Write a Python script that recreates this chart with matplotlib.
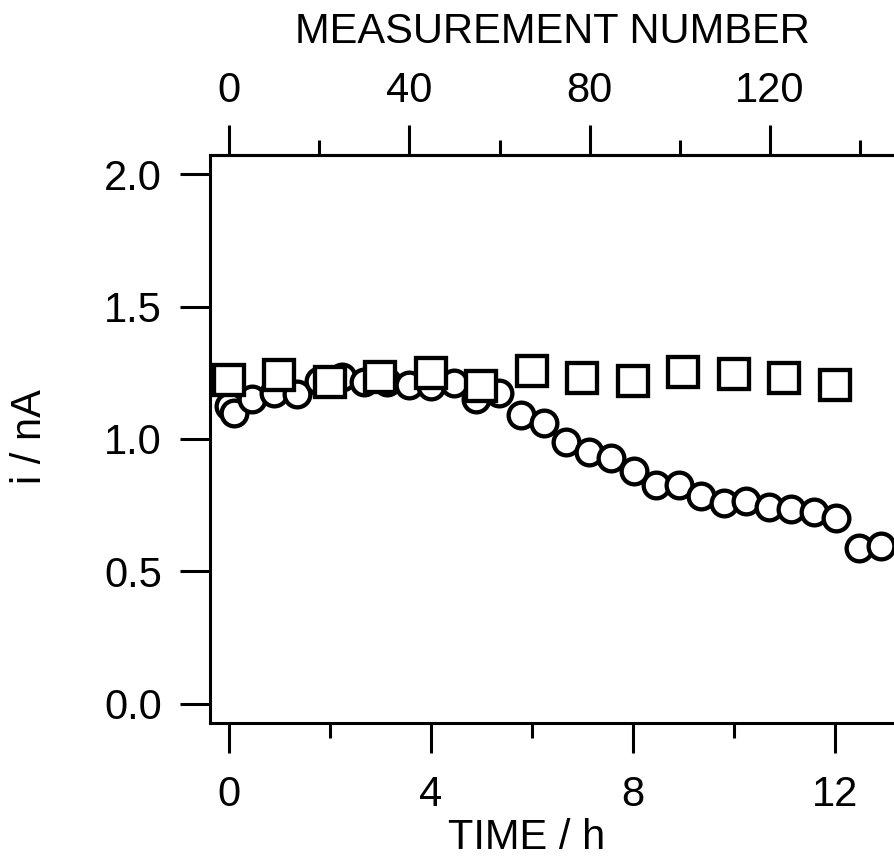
import matplotlib
matplotlib.use("Agg")
import matplotlib.pyplot as plt
from matplotlib.ticker import MultipleLocator, FixedLocator, FormatStrFormatter

plt.rcParams['font.family'] = ['Liberation Sans', 'DejaVu Sans']
plt.rcParams['font.size'] = 30

# circles: current over time
circle_time = [0.0, 0.09, 0.45, 0.89, 1.34, 1.78, 2.23, 2.67, 3.12, 3.56, 4.01,
               4.46, 4.90, 5.35, 5.79, 6.24, 6.68, 7.13, 7.57, 8.02, 8.46,
               8.91, 9.35, 9.80, 10.24, 10.69, 11.13, 11.58, 12.02, 12.47, 12.91]
circle_current = [1.125, 1.10, 1.15, 1.175, 1.17, 1.22, 1.235, 1.215, 1.215, 1.205, 1.20,
                  1.21, 1.15, 1.175, 1.09, 1.06, 0.99, 0.95, 0.93, 0.88, 0.825,
                  0.825, 0.785, 0.76, 0.765, 0.745, 0.735, 0.725, 0.70, 0.59, 0.595]

# squares: reference series
square_time = [0, 1, 2, 3, 4, 5, 6, 7, 8, 9, 10, 11, 12]
square_current = [1.223, 1.242, 1.215, 1.234, 1.249, 1.20, 1.257, 1.230, 1.219,
                  1.253, 1.245, 1.230, 1.204]

top_major = [0, 40, 80, 120]
top_minor = [20, 60, 100, 140]
hours_per_measurement = 0.0893

W, H = 895, 868
fig = plt.figure(figsize=(W / 100, H / 100), dpi=100)
left, right, top, bottom = 210, 894, 155, 723
ax = fig.add_axes([left / W, 1 - bottom / H, (right - left) / W, (bottom - top) / H])

ax.plot(circle_time, circle_current, linestyle='none', marker='o', markersize=18.5,
        markerfacecolor='white', markeredgecolor='black', markeredgewidth=3.1, zorder=3)
ax.plot(square_time, square_current, linestyle='none', marker='s', markersize=21,
        markerfacecolor='white', markeredgecolor='black', markeredgewidth=3.1, zorder=4)

ax.set_xlim(-0.376, 13.17)
ax.set_ylim(-0.072, 2.072)

lw = 2.2
for side in ['left', 'bottom', 'top']:
    ax.spines[side].set_linewidth(lw)
ax.spines['right'].set_visible(False)

ax.xaxis.set_major_locator(MultipleLocator(4))
ax.xaxis.set_minor_locator(MultipleLocator(2))
ax.yaxis.set_major_locator(MultipleLocator(0.5))
ax.yaxis.set_major_formatter(FormatStrFormatter('%.1f'))
ax.tick_params(axis='x', which='major', direction='out', length=21.6, width=lw, pad=16)
ax.tick_params(axis='x', which='minor', direction='out', length=11, width=lw)
ax.tick_params(axis='y', which='major', direction='out', length=21.6, width=lw, pad=13)
ax.tick_params(axis='y', which='minor', left=False)

sec = ax.secondary_xaxis('top', functions=(lambda t: t / hours_per_measurement,
                                            lambda m: m * hours_per_measurement))
sec.xaxis.set_major_locator(FixedLocator(top_major))
sec.xaxis.set_minor_locator(FixedLocator(top_minor))
sec.spines['top'].set_linewidth(lw)
sec.tick_params(axis='x', which='major', direction='out', length=21.6, width=lw, pad=10)
sec.tick_params(axis='x', which='minor', direction='out', length=11, width=lw)

fig.text(527 / W, 1 - 838 / H, 'TIME / h', ha='center', va='center')
fig.text(552 / W, 1 - 32 / H, 'MEASUREMENT NUMBER', ha='center', va='center')
fig.text(30 / W, 1 - 437 / H, 'i / nA', ha='center', va='center', rotation=90)

fig.savefig('out.png', dpi=100)
